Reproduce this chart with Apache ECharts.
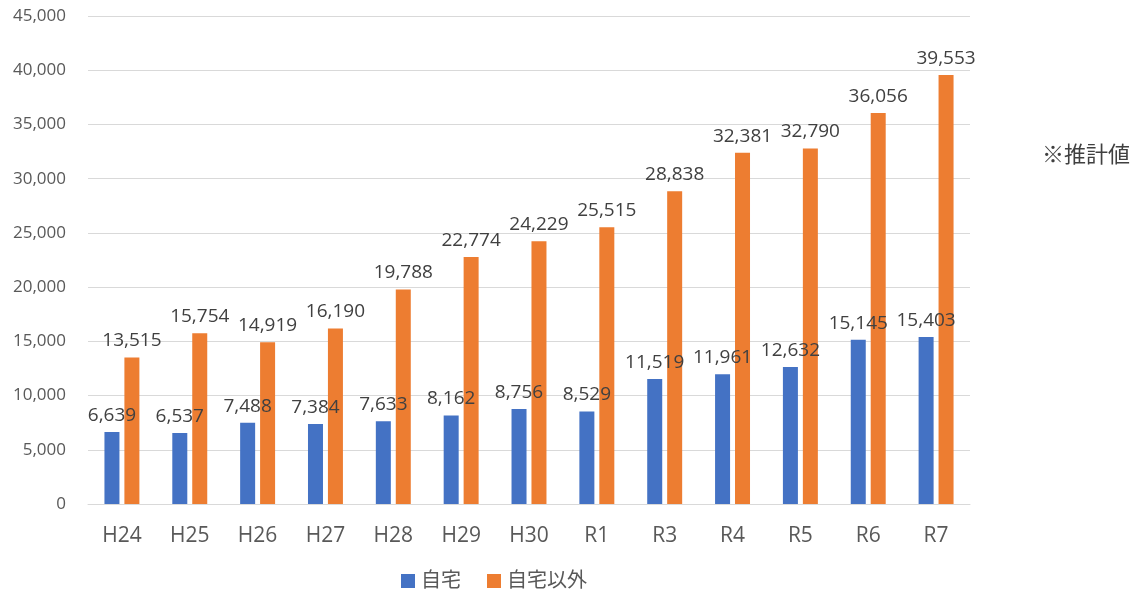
<!DOCTYPE html>
<html>
<head>
<meta charset="utf-8">
<script src="https://cdn.jsdelivr.net/npm/echarts@6/dist/echarts.min.js"></script>
<style>
  html, body { margin: 0; padding: 0; background: #fff; }
  #chart { width: 1135px; height: 590px; }
</style>
</head>
<body>
<div id="chart"></div>
<script>
// Fiscal years
const categories = ['H24', 'H25', 'H26', 'H27', 'H28', 'H29', 'H30', 'R1', 'R3', 'R4', 'R5', 'R6', 'R7'];
// 自宅
const homeValues = [6639, 6537, 7488, 7384, 7633, 8162, 8756, 8529, 11519, 11961, 12632, 15145, 15403];
// 自宅以外
const otherValues = [13515, 15754, 14919, 16190, 19788, 22774, 24229, 25515, 28838, 32381, 32790, 36056, 39553];
const seriesNames = ['自宅', '自宅以外'];
const noteText = '※推計値';

const FONT = "'Open Sans', 'Noto Sans CJK JP', sans-serif";
const fmt = v => v.toLocaleString('en-US');

const chart = echarts.init(document.getElementById('chart'));

const labelStyle = {
  show: true,
  position: 'top',
  distance: 7,
  color: '#404040',
  fontSize: 19,
  fontFamily: FONT,
  formatter: p => fmt(p.value)
};

chart.setOption({
  animation: false,
  textStyle: { fontFamily: FONT },
  grid: { left: 88, right: 165, top: 16, bottom: 86, containLabel: false },
  legend: {
    data: seriesNames,
    left: 396,
    top: 566,
    itemWidth: 14,
    itemHeight: 14,
    itemGap: 26,
    icon: 'rect',
    textStyle: { color: '#595959', fontSize: 20, fontFamily: FONT, padding: [0, 0, 0, 1] }
  },
  graphic: [{
    type: 'text',
    left: 1042,
    top: 145,
    style: { text: noteText, fill: '#404040', fontSize: 22, fontFamily: FONT }
  }],
  xAxis: {
    type: 'category',
    data: categories,
    axisLine: { lineStyle: { color: '#d9d9d9', width: 1 } },
    axisTick: { show: false },
    axisLabel: { color: '#595959', fontSize: 21, margin: 22, fontFamily: FONT }
  },
  yAxis: {
    type: 'value',
    min: 0,
    max: 45000,
    interval: 5000,
    axisLine: { show: false },
    axisTick: { show: false },
    splitLine: { lineStyle: { color: '#d9d9d9', width: 1 } },
    axisLabel: { color: '#595959', fontSize: 17, margin: 22, fontFamily: FONT, formatter: v => fmt(v) }
  },
  series: [
    {
      name: seriesNames[0],
      type: 'bar',
      data: homeValues,
      barWidth: 15,
      barGap: '33%',
      itemStyle: { color: '#4472C4' },
      label: labelStyle
    },
    {
      name: seriesNames[1],
      type: 'bar',
      data: otherValues,
      barWidth: 15,
      barGap: '33%',
      itemStyle: { color: '#ED7D31' },
      label: labelStyle
    }
  ]
});
</script>
</body>
</html>
